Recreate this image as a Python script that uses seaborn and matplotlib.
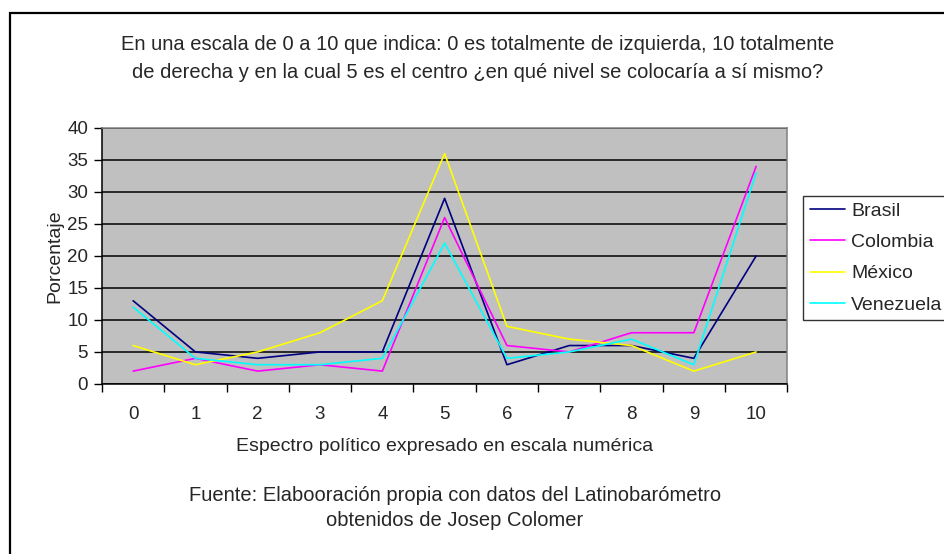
import pandas as pd
import seaborn as sns
import matplotlib.pyplot as plt
from matplotlib.patches import Rectangle

# Escala politica 0-10
escala = list(range(11))
brasil = [13, 5, 4, 5, 5, 29, 3, 6, 6, 4, 20]
colombia = [2, 4, 2, 3, 2, 26, 6, 5, 8, 8, 34]
mexico = [6, 3, 5, 8, 13, 36, 9, 7, 6, 2, 5]
venezuela = [12, 4, 3, 3, 4, 22, 4, 5, 7, 3, 33]
paises = ["Brasil", "Colombia", "México", "Venezuela"]
colores = ["#000080", "#FF00FF", "#FFFF00", "#00FFFF"]

titulo = ("En una escala de 0 a 10 que indica: 0 es totalmente de izquierda, 10 totalmente\n"
          "de derecha y en la cual 5 es el centro ¿en qué nivel se colocaría a sí mismo?")
fuente = "Fuente: Elabooración propia con datos del Latinobarómetro\nobtenidos de Josep Colomer"

df = pd.DataFrame({
    "escala": escala * 4,
    "valor": brasil + colombia + mexico + venezuela,
    "pais": [p for p in paises for _ in escala],
})

sns.set_style("white")
plt.rcParams['font.family'] = ['Liberation Sans', 'DejaVu Sans']
fs = 14

fig = plt.figure(figsize=(9.44, 5.54), dpi=100)
ax = fig.add_axes([0.108, 0.307, 0.726, 0.462])
ax.set_facecolor("#C0C0C0")

sns.lineplot(data=df, x="escala", y="valor", hue="pais", palette=colores,
             linewidth=1.2, ax=ax, legend=False)

ax.set_xlim(-0.5, 10.5)
ax.set_ylim(0, 40)
ax.set_yticks(range(0, 41, 5))
ax.yaxis.grid(True, color="black", linewidth=1.1)
ax.set_axisbelow(True)
ax.set_xticks([i - 0.5 for i in range(12)])
ax.set_xticklabels([])
ax.set_xticks(escala, minor=True)
ax.set_xticklabels([str(i) for i in escala], minor=True, fontsize=13.5)
ax.tick_params(axis="x", which="minor", length=0, pad=16)
ax.tick_params(axis="x", which="major", direction="out", length=6, width=1, color="black", bottom=True)
ax.tick_params(axis="y", direction="out", length=6, width=1, color="black", labelsize=13.5, left=True, pad=4)
for s in ["left", "bottom"]:
    ax.spines[s].set_color("black")
    ax.spines[s].set_linewidth(1.1)
for s in ["top", "right"]:
    ax.spines[s].set_color("#808080")
    ax.spines[s].set_linewidth(1.1)

ax.set_xlabel("Espectro político expresado en escala numérica", fontsize=fs, labelpad=11)
ax.set_ylabel("Porcentaje", fontsize=fs, labelpad=3)

fig.text(0.506, 0.894, titulo, ha="center", va="center", fontsize=14.5, linespacing=1.6)
fig.text(0.482, 0.083, fuente, ha="center", va="center", fontsize=14.5, linespacing=1.45)

# leyenda
handles = [plt.Line2D([], [], color=c, linewidth=1.2) for c in colores]
leg = fig.legend(handles, paises, loc="upper left", bbox_to_anchor=(0.851, 0.647),
                 fontsize=fs, frameon=True, fancybox=False, handlelength=1.8,
                 handletextpad=0.3, borderpad=0.35, labelspacing=0.7, borderaxespad=0)
leg.get_frame().set_edgecolor("black")
leg.get_frame().set_linewidth(1.0)

# marco exterior (solo izquierda y arriba visibles)
fig.patches.append(Rectangle((10 / 944, -0.05), 1.1, 1 - 13 / 554 + 0.05, transform=fig.transFigure,
                             fill=False, edgecolor="black", linewidth=1.6))

fig.savefig("out.png", dpi=100)
